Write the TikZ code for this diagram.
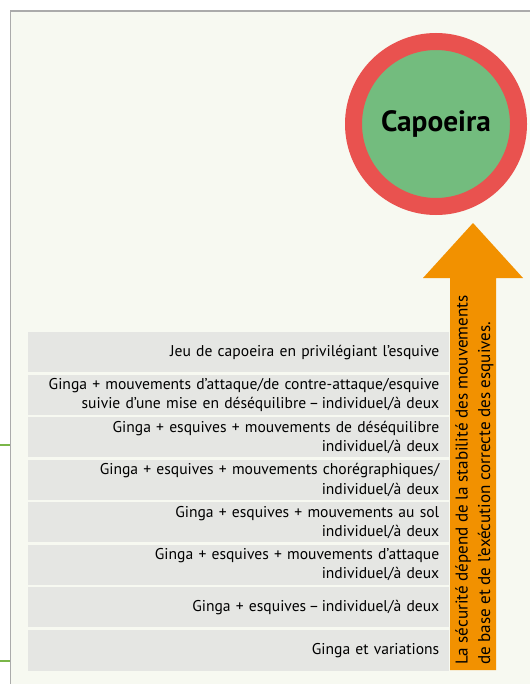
\documentclass[tikz,border=0pt]{standalone}
\usepackage{fontspec}
\setmainfont{PT Sans}
\usepackage{tikz}

\definecolor{panelbg}{HTML}{F7F9F1}
\definecolor{bordergray}{HTML}{ABABAB}
\definecolor{rowgray}{HTML}{E5E6E3}
\definecolor{capred}{HTML}{E9524F}
\definecolor{capgreen}{HTML}{73BC7E}
\definecolor{arroworange}{HTML}{F29100}
\definecolor{tickgreen}{HTML}{7AB648}

\begin{document}
\begin{tikzpicture}[x=0.75pt,y=0.75pt,yscale=-1,xscale=1,
  rowbox/.style={fill=rowgray, anchor=north west, minimum width=315.75pt, minimum height=30pt,
    inner xsep=7.5pt, inner ysep=0pt, text width=300.75pt, align=right,
    font=\fontsize{11.7}{14.6}\selectfont}]
%set diagram left start at 0, and has height of 684
\useasboundingbox (0,0) rectangle (530,684);

%Shape: Panel
\fill[panelbg] (10.5,11) rectangle (530,684);
\draw[bordergray, line width=1pt] (10.5,684) -- (10.5,11) -- (530,11);
%Straight Lines
\draw[tickgreen, line width=1.1pt] (0,445) -- (10,445);
\draw[tickgreen, line width=1.1pt] (0,661) -- (10,661);

%Shape: Arrow
\fill[arroworange] (450,670) -- (450,278) -- (423,278) -- (473,223) -- (523,278) -- (496,278) -- (496,670) -- cycle;

%Shape: Circle
\node (capoeira) [circle, fill=capgreen, draw=capred, line width=12.75pt, minimum size=123.75pt,
  inner sep=0pt, font=\fontsize{22}{26}\selectfont\bfseries] at (436,124) {Capoeira};

% Text Node
\node (jeu) [rowbox] at (28,332) {Jeu de capoeira en privilégiant l’esquive};
% Text Node
\node (attaque) [rowbox] at (28,374.5) {Ginga + mouvements d’attaque/de contre-attaque/esquive\\suivie d’une mise en déséquilibre\,–\,individuel/à deux};
% Text Node
\node (desequilibre) [rowbox] at (28,417) {Ginga + esquives + mouvements de déséquilibre\\individuel/à deux};
% Text Node
\node (choregraphie) [rowbox] at (28,459.5) {Ginga + esquives + mouvements chorégraphiques/\\individuel/à deux};
% Text Node
\node (sol) [rowbox] at (28,502) {Ginga + esquives + mouvements au sol\\individuel/à deux};
% Text Node
\node (attaquesimple) [rowbox] at (28,544.5) {Ginga + esquives + mouvements d’attaque\\individuel/à deux};
% Text Node
\node (esquives) [rowbox] at (28,587) {Ginga + esquives\,–\,individuel/à deux};
% Text Node
\node (ginga) [rowbox, minimum height=30.75pt] at (28,629.5) {Ginga et variations};

% Text Node
\node (securite) [rotate=90, anchor=north west, align=left, inner sep=0pt,
  font=\fontsize{12.8}{17}\selectfont] at (455,665)
  {La sécurité dépend de la stabilité des mouvements\\de base et de l’exécution correcte des esquives.};
\end{tikzpicture}
\end{document}
